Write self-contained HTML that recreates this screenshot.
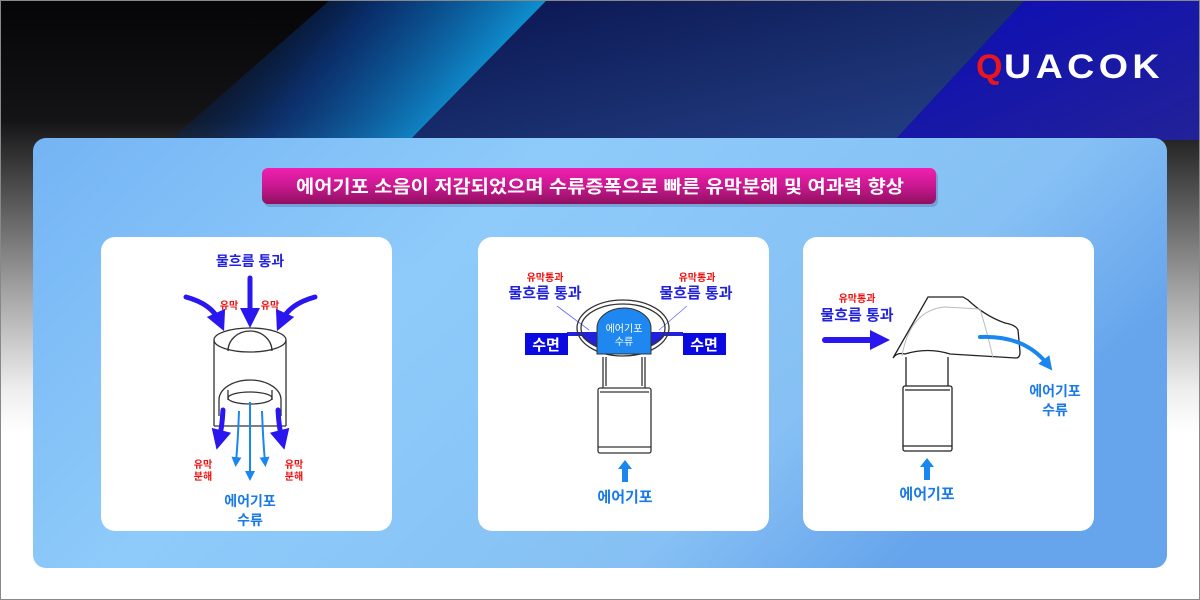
<!DOCTYPE html>
<html><head><meta charset="utf-8"><style>
html,body{margin:0;padding:0;width:1200px;height:600px;overflow:hidden}
body{font-family:"Liberation Sans","Noto Sans CJK KR",sans-serif}
svg{display:block}
text{font-family:"Liberation Sans","Noto Sans CJK KR",sans-serif;font-weight:bold}
</style></head><body>
<svg width="1200" height="600" viewBox="0 0 1200 600" xmlns="http://www.w3.org/2000/svg">
<defs>
<linearGradient id="bg" x1="0" y1="0" x2="0" y2="1">
<stop offset="0" stop-color="#050508"/><stop offset="0.2" stop-color="#141416"/><stop offset="0.33" stop-color="#555"/><stop offset="0.5" stop-color="#aaa"/><stop offset="0.65" stop-color="#eee"/><stop offset="0.72" stop-color="#fff"/><stop offset="1" stop-color="#fff"/>
</linearGradient>
<linearGradient id="cy" x1="0" y1="0" x2="1" y2="0.3">
<stop offset="0" stop-color="#000" stop-opacity="0"/><stop offset="0.5" stop-color="#0a3c90" stop-opacity="0.7"/><stop offset="1" stop-color="#10a8e8"/>
</linearGradient>
<linearGradient id="nv" x1="0" y1="0" x2="1" y2="1">
<stop offset="0" stop-color="#0a1450"/><stop offset="0.6" stop-color="#1a3070"/><stop offset="1" stop-color="#24408a"/>
</linearGradient>
<linearGradient id="rb" x1="0" y1="0" x2="1" y2="1">
<stop offset="0" stop-color="#0c0cb8"/><stop offset="1" stop-color="#222298"/>
</linearGradient>
<linearGradient id="pn" x1="0" y1="0" x2="1" y2="0.4">
<stop offset="0" stop-color="#74b4f4"/><stop offset="0.4" stop-color="#8ecbfa"/><stop offset="0.8" stop-color="#86c0f4"/><stop offset="1" stop-color="#66a4ec"/>
</linearGradient>
<linearGradient id="bn" x1="0" y1="0" x2="0" y2="1">
<stop offset="0" stop-color="#f020b0"/><stop offset="0.5" stop-color="#c81890"/><stop offset="1" stop-color="#901060"/>
</linearGradient>
<marker id="ah" viewBox="0 0 10 10" refX="5" refY="5" markerWidth="4" markerHeight="4" orient="auto"><path d="M0,0L10,5L0,10z" fill="#2a16ee"/></marker>
<marker id="al" viewBox="0 0 10 10" refX="5" refY="5" markerWidth="5" markerHeight="5" orient="auto"><path d="M0,0L10,5L0,10z" fill="#1a86f0"/></marker>
<marker id="ac" viewBox="0 0 10 10" refX="5" refY="5" markerWidth="3.5" markerHeight="3.5" orient="auto"><path d="M0,0L10,5L0,10z" fill="#1a86f0"/></marker>
</defs>
<rect width="1200" height="600" fill="url(#bg)"/>
<polygon points="330,0 547,0 410,140 170,140" fill="url(#cy)"/>
<polygon points="547,0 1025,0 895,140 410,140" fill="url(#nv)"/>
<polygon points="1025,0 1200,0 1200,140 895,140" fill="url(#rb)"/>
<rect x="0.5" y="0.5" width="1199" height="599" fill="none" stroke="#888"/>
<!-- logo -->
<text x="976" y="78" font-size="34" fill="#e8161e">Q</text>
<text x="1004" y="78" font-size="34" fill="#fff" letter-spacing="4" textLength="160" lengthAdjust="spacingAndGlyphs">UACOK</text>
<!-- panel -->
<rect x="33" y="138" width="1134" height="430" rx="13" fill="url(#pn)"/>
<rect x="264" y="171" width="674" height="36" rx="6" fill="#5060a0" opacity="0.35"/>
<rect x="262" y="168" width="674" height="36" rx="6" fill="url(#bn)"/>
<text x="600" y="193" font-size="18" fill="#fff" text-anchor="middle" textLength="608" lengthAdjust="spacingAndGlyphs">에어기포 소음이 저감되었으며 수류증폭으로 빠른 유막분해 및 여과력 향상</text>
<!-- cards -->
<rect x="101" y="237" width="291" height="294" rx="14" fill="#fff"/>
<rect x="478" y="237" width="291" height="294" rx="14" fill="#fff"/>
<rect x="803" y="237" width="291" height="294" rx="14" fill="#fff"/>

<!-- card1 -->
<text x="250" y="266" font-size="14" fill="#2222dd" text-anchor="middle">물흐름 통과</text>
<g fill="none" stroke="#2a16ee" stroke-width="5" stroke-linecap="round">
<line x1="250" y1="278" x2="250" y2="318" marker-end="url(#ah)"/>
<path d="M186,297 Q212,304 220,322" marker-end="url(#ah)"/>
<path d="M315,297 Q289,304 281,322" marker-end="url(#ah)"/>
</g>
<text x="229" y="309" font-size="10" fill="#ee1111" text-anchor="middle">유막</text>
<text x="270" y="309" font-size="10" fill="#ee1111" text-anchor="middle">유막</text>
<g fill="none" stroke="#333" stroke-width="1.3">
<ellipse cx="250" cy="340" rx="36" ry="12"/>
<line x1="214" y1="340" x2="214" y2="426"/><line x1="286" y1="340" x2="286" y2="426"/>
<line x1="214" y1="426" x2="286" y2="426"/>
<path d="M228,351 A22,20 0 0 1 272,351"/>
<path d="M219,416 L219,400 A31,20 0 0 1 281,400 L281,416"/>
<path d="M228,390 L228,400"/><path d="M272,390 L272,400"/>
<ellipse cx="250" cy="398" rx="22" ry="6"/>
</g>
<g fill="none" stroke="#2a16ee" stroke-width="5" stroke-linecap="round">
<path d="M223,410 Q222,428 219,440" marker-end="url(#ah)"/>
<path d="M278,410 Q279,428 282,440" marker-end="url(#ah)"/>
</g>
<g fill="none" stroke="#1a86f0" stroke-width="2">
<line x1="250" y1="402" x2="250" y2="476" marker-end="url(#al)"/>
<path d="M239,411 Q238,440 236,462" marker-end="url(#al)"/>
<path d="M262,411 Q263,440 265,462" marker-end="url(#al)"/>
</g>
<text x="203" y="468" font-size="10" fill="#ee1111" text-anchor="middle">유막</text>
<text x="203" y="480" font-size="10" fill="#ee1111" text-anchor="middle">분해</text>
<text x="294" y="468" font-size="10" fill="#ee1111" text-anchor="middle">유막</text>
<text x="294" y="480" font-size="10" fill="#ee1111" text-anchor="middle">분해</text>
<text x="250" y="506" font-size="14" fill="#1a7ae8" text-anchor="middle">에어기포</text>
<text x="250" y="525" font-size="14" fill="#1a7ae8" text-anchor="middle">수류</text>

<!-- card2 -->
<text x="545" y="281" font-size="10" fill="#ee1111" text-anchor="middle">유막통과</text>
<text x="545" y="298" font-size="15" fill="#2222dd" text-anchor="middle">물흐름 통과</text>
<text x="697" y="281" font-size="10" fill="#ee1111" text-anchor="middle">유막통과</text>
<text x="696" y="298" font-size="15" fill="#2222dd" text-anchor="middle">물흐름 통과</text>
<line x1="557" y1="306" x2="589" y2="330" stroke="#6a6af0" stroke-width="0.8"/>
<line x1="687" y1="306" x2="659" y2="330" stroke="#6a6af0" stroke-width="0.8"/>
<rect x="567" y="332" width="116" height="4" fill="#2222dd"/>
<path d="M580,333 A44,24 0 0 0 666,333 Z" fill="#2222dd"/>
<ellipse cx="623" cy="328" rx="46" ry="28" fill="none" stroke="#333" stroke-width="1.3"/>
<ellipse cx="623" cy="328" rx="42" ry="24" fill="none" stroke="#333" stroke-width="1.3"/>
<path d="M597,354 L597,328 A27,20 0 0 1 651,328 L651,354 Z" fill="#1e88f0" stroke="#333" stroke-width="1"/>
<text x="624" y="332" font-size="10" fill="#fff" text-anchor="middle" style="font-weight:normal">에어기포</text>
<text x="624" y="345" font-size="10" fill="#fff" text-anchor="middle" style="font-weight:normal">수류</text>
<rect x="525" y="333" width="43" height="22" fill="#0a0ae0"/>
<text x="546" y="350" font-size="15" fill="#fff" text-anchor="middle">수면</text>
<rect x="683" y="333" width="43" height="22" fill="#0a0ae0"/>
<text x="704" y="350" font-size="15" fill="#fff" text-anchor="middle">수면</text>
<g fill="none" stroke="#333" stroke-width="1.3">
<path d="M603,357 L603,388 M645,357 L645,388"/>
<path d="M606,357 L606,386 M642,357 L642,386"/>
<rect x="598" y="388" width="53" height="65" rx="2"/>
<line x1="600" y1="392" x2="649" y2="392"/>
<line x1="598" y1="447" x2="651" y2="447"/>
</g>
<path d="M625,460 L632,469 L628,469 L628,482 L622,482 L622,469 L618,469 Z" fill="#1a86f0"/>
<text x="625" y="502" font-size="15" fill="#1a7ae8" text-anchor="middle">에어기포</text>

<!-- card3 -->
<text x="857" y="302" font-size="10" fill="#ee1111" text-anchor="middle">유막통과</text>
<text x="857" y="320" font-size="15" fill="#2222dd" text-anchor="middle">물흐름 통과</text>
<path d="M825,340 L872,340" stroke="#2a16ee" stroke-width="6" stroke-linecap="round"/>
<path d="M870,330 L890,340 L870,350 Z" fill="#2a16ee"/>
<path d="M893,358 Q897,352 905,354 Q928,347 950,354 L1016,358 Q1020,358 1020,352 L1018,330 Q1016,325 1005,323 Q985,316 968,300 L963,297 L928,297 Z" fill="#fff" stroke="#222" stroke-width="1.3"/>
<path d="M902,356 Q910,310 945,307 L980,309 Q988,335 993,358" fill="none" stroke="#bbb" stroke-width="1"/>
<g fill="none" stroke="#222" stroke-width="1.3">
<path d="M906,357 L906,386 M948,357 L948,386"/>
<rect x="903" y="386" width="49" height="65" rx="2"/>
<line x1="905" y1="390" x2="950" y2="390"/>
<line x1="903" y1="446" x2="952" y2="446"/>
</g>
<path d="M980,337 Q1025,335 1048,365" fill="none" stroke="#1a86f0" stroke-width="4" stroke-linecap="round" marker-end="url(#ac)"/>
<text x="1055" y="396" font-size="14" fill="#1a7ae8" text-anchor="middle">에어기포</text>
<text x="1055" y="415" font-size="14" fill="#1a7ae8" text-anchor="middle">수류</text>
<path d="M927,458 L934,467 L930,467 L930,480 L924,480 L924,467 L920,467 Z" fill="#1a86f0"/>
<text x="927" y="499" font-size="15" fill="#1a7ae8" text-anchor="middle">에어기포</text>
</svg>
</body></html>
